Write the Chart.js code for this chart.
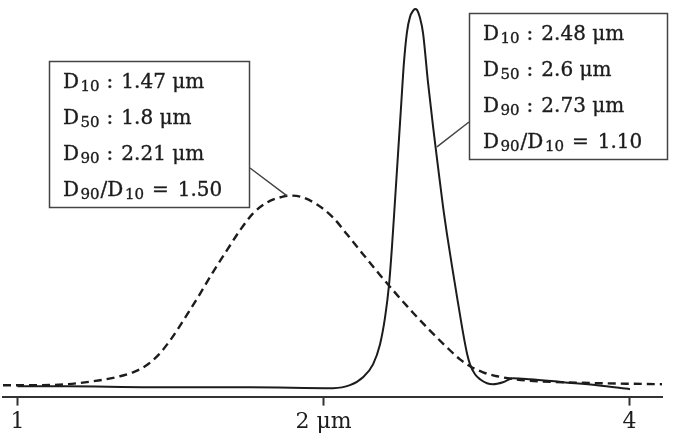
<!DOCTYPE html>
<html>
<head>
<meta charset="utf-8">
<script src="https://cdn.jsdelivr.net/npm/chart.js@4.4.1/dist/chart.umd.min.js"></script>
<style>
  html, body { margin: 0; padding: 0; background: #ffffff; }
  #wrap { width: 674px; height: 444px; position: relative; }
</style>
</head>
<body>
<div id="wrap"><canvas id="c"></canvas></div>
<script>
// ---- data ----
const tickValues = [1, 2, 4];
const tickLabels = ['1', '2 μm', '4'];

// solid curve (narrow distribution)
const solidX = [1.000,1.1187,1.3500,1.6933,2.0434,2.1237,2.1872,2.2374,2.2730,2.2990,2.3200,2.3358,2.3517,2.3678,2.3839,2.4002,2.4165,2.4330,2.4496,2.4607,2.4719,2.4887,2.5057,2.5342,2.5631,2.5923,2.6218,2.6457,2.6758,2.7063,2.7433,2.7683,2.7872,2.8189,2.8510,2.8966,2.9362,3.0035,3.0723,3.1929,3.4407,3.7163,4.0045];
const solidY = [9,9,8,8,7,10,18,31,51,78,111,150,196,243,290,336,366,381,387,389,388,380,365,315,271,230,190,162,130,99,63,42,31,21,16,12,11,13,17,16,13,10,6];

// dashed curve (broad distribution)
const dashX = [0.9677,1.0523,1.1187,1.2055,1.2614,1.2991,1.3349,1.3717,1.4127,1.4681,1.5120,1.5572,1.6073,1.6554,1.7050,1.7599,1.8247,1.8539,1.8963,1.9708,2.0434,2.1093,2.1872,2.2730,2.3624,2.4496,2.5457,2.6457,2.7247,2.7872,2.8704,2.9630,3.0862,3.1929,3.4407,3.7163,4.3056];
const dashY = [10,10,11,15,19,23,29,39,55,81,102,124,146,166,183,194,200,201,200,192,179,162,142,121,101,83,65,48,36,29,23,19,16,14.5,13,12,11];

// annotation texts
const statSubs = ['10', '50', '90'];
const leftStats = ['1.47 μm', '1.8 μm', '2.21 μm', '1.50'];
const rightStats = ['2.48 μm', '2.6 μm', '2.73 μm', '1.10'];
// leader-line targets on the curves (data units)
const leftAnchor = [1.84, 201];
const rightAnchor = [2.586, 250];

const toPts = (xs, ys) => xs.map((x, i) => ({ x: x, y: ys[i] }));

const INK = '#1c1c1c';
const FONT = '"DejaVu Serif", serif';

function drawStatBox(ctx, bx, by, bw, bh, stats) {
  ctx.save();
  ctx.fillStyle = '#ffffff';
  ctx.fillRect(bx, by, bw, bh);
  ctx.strokeStyle = '#444';
  ctx.lineWidth = 1.5;
  ctx.strokeRect(bx + 0.5, by + 0.5, bw, bh);
  ctx.fillStyle = INK;
  ctx.strokeStyle = INK;
  ctx.lineWidth = 0.35;
  ctx.textBaseline = 'alphabetic';
  ctx.textAlign = 'left';
  const main = '20px ' + FONT;
  const sub = '15px ' + FONT;
  const x0 = bx + 14;
  const put = (t, x, y, f) => {
    ctx.font = f;
    ctx.fillText(t, x, y);
    ctx.strokeText(t, x, y);
    return x + ctx.measureText(t).width;
  };
  for (let i = 0; i < 4; i++) {
    const base = by + 27 + 36 * i;
    let x = x0;
    if (i < 3) {
      x = put('D', x, base, main);
      x = put(statSubs[i], x + 1.5, base + 3, sub);
      x = put(':', x + 7, base, main);
      put(stats[i], x + 8, base, main);
    } else {
      x = put('D', x, base, main);
      x = put(statSubs[2], x + 1.5, base + 3, sub);
      x = put('/', x + 1, base, main);
      x = put('D', x, base, main);
      x = put(statSubs[0], x + 1.5, base + 3, sub);
      x = put('=', x + 8, base, main);
      put(stats[3], x + 9, base, main);
    }
  }
  ctx.restore();
}

const annotPlugin = {
  id: 'annot',
  afterDatasetsDraw(chart) {
    const ctx = chart.ctx;
    const xs = chart.scales.x, ys = chart.scales.y;
    ctx.save();
    ctx.strokeStyle = '#444';
    ctx.lineWidth = 1.5;
    ctx.beginPath();
    ctx.moveTo(250, 168);
    ctx.lineTo(xs.getPixelForValue(leftAnchor[0]), ys.getPixelForValue(leftAnchor[1]));
    ctx.moveTo(469, 122);
    ctx.lineTo(xs.getPixelForValue(rightAnchor[0]), ys.getPixelForValue(rightAnchor[1]));
    ctx.stroke();
    ctx.restore();
    drawStatBox(ctx, 49, 61, 200, 146, leftStats);
    drawStatBox(ctx, 469, 13, 198, 146, rightStats);
  }
};

new Chart(document.getElementById('c'), {
  type: 'scatter',
  data: {
    datasets: [
      {
        data: toPts(dashX, dashY),
        showLine: true,
        borderColor: INK,
        borderWidth: 2.4,
        borderDash: [8, 5],
        pointRadius: 0,
        cubicInterpolationMode: 'monotone',
        fill: false
      },
      {
        data: toPts(solidX, solidY),
        showLine: true,
        borderColor: INK,
        borderWidth: 2,
        pointRadius: 0,
        cubicInterpolationMode: 'monotone',
        fill: false
      }
    ]
  },
  options: {
    responsive: true,
    maintainAspectRatio: false,
    animation: false,
    devicePixelRatio: 1,
    layout: { padding: { left: 3, right: 12, top: 0, bottom: 6 } },
    plugins: { legend: { display: false }, tooltip: { enabled: false } },
    scales: {
      x: {
        type: 'logarithmic',
        min: 0.9677,
        max: 4.3056,
        afterBuildTicks: (scale) => { scale.ticks = tickValues.map(v => ({ value: v })); },
        ticks: {
          autoSkip: false,
          maxRotation: 0,
          padding: 3,
          color: INK,
          font: { family: 'DejaVu Serif', size: 22 },
          callback: (v) => { const i = tickValues.indexOf(v); return i >= 0 ? tickLabels[i] : ''; }
        },
        grid: { display: true, drawOnChartArea: false, drawTicks: true, tickLength: 9, tickColor: '#333', tickWidth: 2 },
        border: { display: true, color: '#333', width: 2 }
      },
      y: {
        display: false,
        min: -1.5,
        max: 398
      }
    }
  },
  plugins: [annotPlugin]
});
</script>
</body>
</html>
